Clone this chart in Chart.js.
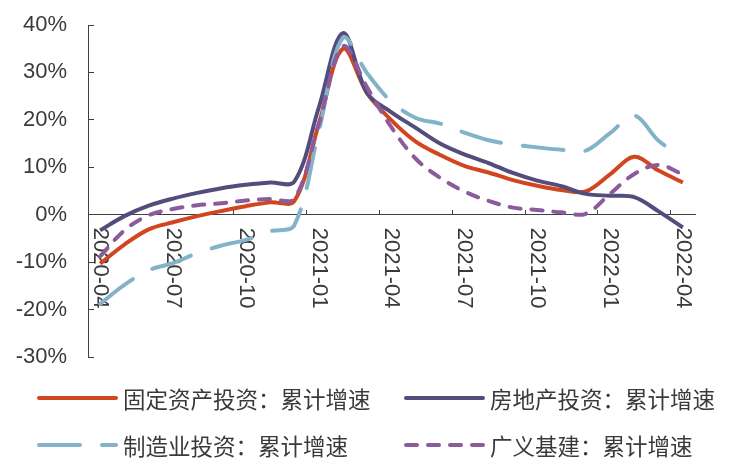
<!DOCTYPE html>
<html>
<head>
<meta charset="utf-8">
<script src="https://cdn.jsdelivr.net/npm/chart.js@4.4.1/dist/chart.umd.min.js"></script>
<style>
  html, body { margin: 0; padding: 0; background: #fff; }
  #wrap { width: 747px; height: 472px; }
</style>
</head>
<body>
<div id="wrap"><canvas id="myLineChart" width="747" height="472"></canvas></div>
<script>
const months = ['2020-04', '2020-05', '2020-06', '2020-07', '2020-08', '2020-09', '2020-10', '2020-11', '2020-12',
    '2021-01', '2021-02', '2021-03', '2021-04', '2021-05', '2021-06', '2021-07', '2021-08', '2021-09', '2021-10', '2021-11', '2021-12',
    '2022-01', '2022-02', '2022-03', '2022-04'];
const faiGrowth = [-10.3, -6.3, -3.1, -1.6, -0.3, 0.8, 1.8, 2.6, 2.9,
    19.0, 35.0, 25.6, 19.9, 15.4, 12.6, 10.3, 8.9, 7.3, 6.1, 5.2, 4.9,
    8.5, 12.2, 9.3, 6.8];
const realEstateGrowth = [-3.3, -0.3, 1.9, 3.4, 4.6, 5.6, 6.3, 6.8, 7.0,
    22.5, 38.3, 25.6, 21.6, 18.3, 15.0, 12.7, 10.9, 8.8, 7.2, 6.0, 4.4,
    4.0, 3.7, 0.7, -2.7];
const manufacturingGrowth = [-18.8, -14.8, -11.7, -10.2, -8.1, -6.5, -5.3, -3.5, -2.2,
    17.5, 37.3, 29.8, 23.8, 20.4, 19.2, 17.3, 15.7, 14.8, 14.2, 13.7, 13.5,
    17.2, 20.9, 15.6, 12.2];
const infraGrowth = [-8.8, -3.3, -0.1, 1.2, 2.0, 2.4, 3.0, 3.3, 3.4,
    19.0, 35.5, 26.8, 18.4, 11.8, 7.8, 4.9, 2.9, 1.5, 1.0, 0.5, 0.2,
    4.4, 8.6, 10.5, 8.5];
const seriesNames = ['固定资产投资：累计增速', '房地产投资：累计增速', '制造业投资：累计增速', '广义基建：累计增速'];
const yMin = -30;
const yMax = 40;
const yStep = 10;

const textColor = '#3a3a3a';
const axisColor = '#404040';
const latinFont = '"Liberation Sans", Arial, sans-serif';

// x labels are rotated clockwise (read top to bottom), so draw them ourselves under the zero line
const xLabelPlugin = {
    id: 'xLabels',
    beforeDatasetsDraw(chart) {
        const ctx = chart.ctx;
        const xs = chart.scales.x;
        const y0 = chart.scales.y.getPixelForValue(0);
        ctx.save();
        ctx.font = '22px ' + latinFont;
        ctx.fillStyle = textColor;
        ctx.textAlign = 'left';
        ctx.textBaseline = 'middle';
        months.forEach((m, i) => {
            if (i % 3 !== 0) return;
            ctx.save();
            ctx.translate(xs.getPixelForValue(i), y0 + 13);
            ctx.rotate(Math.PI / 2);
            ctx.fillText(m, 0, 0);
            ctx.restore();
        });
        ctx.restore();
    }
};

// two-column legend under the plot
const legendRows = [[0, 1], [2, 3]];
const legendPlugin = {
    id: 'bottomLegend',
    afterDraw(chart) {
        const ctx = chart.ctx;
        ctx.save();
        ctx.font = '22.5px "Noto Sans CJK SC", sans-serif';
        ctx.textBaseline = 'middle';
        ctx.textAlign = 'left';
        legendRows.forEach((row, r) => {
            const yy = 398 + r * 47;
            row.forEach((di, c) => {
                const ds = chart.data.datasets[di];
                const xx = 37 + c * 367;
                ctx.beginPath();
                ctx.strokeStyle = ds.borderColor;
                ctx.lineWidth = ds.borderWidth;
                ctx.lineCap = 'round';
                ctx.setLineDash(ds.borderDash || []);
                ctx.moveTo(xx + 2, yy);
                ctx.lineTo(xx + 79, yy);
                ctx.stroke();
                ctx.setLineDash([]);
                ctx.fillStyle = textColor;
                ctx.fillText(ds.label, xx + 86, yy + 1);
            });
        });
        ctx.restore();
    }
};

let myInvestChart;
function chart_load() {
    const canvasElement = document.getElementById('myLineChart');
    if (myInvestChart instanceof Chart) {
        myInvestChart.destroy();
    }
    const ctx = canvasElement.getContext('2d');

    const lineStyle = {
        pointRadius: 0,
        pointHoverRadius: 0,
        borderWidth: 4,
        tension: 0.35,
        fill: false,
        borderJoinStyle: 'round'
    };

    myInvestChart = new Chart(ctx, {
        type: 'line',
        data: {
            labels: months,
            datasets: [{
                ...lineStyle,
                label: seriesNames[0],
                data: faiGrowth,
                borderColor: '#D2461F',
                order: 4
            }, {
                ...lineStyle,
                label: seriesNames[1],
                data: realEstateGrowth,
                borderColor: '#534D7E',
                order: 3
            }, {
                ...lineStyle,
                label: seriesNames[2],
                data: manufacturingGrowth,
                borderColor: '#82B3C8',
                borderDash: [41, 22],
                borderCapStyle: 'round',
                order: 2
            }, {
                ...lineStyle,
                label: seriesNames[3],
                data: infraGrowth,
                borderColor: '#8C5B9C',
                borderDash: [11, 11],
                borderCapStyle: 'round',
                order: 1
            }]
        },
        options: {
            responsive: false,
            devicePixelRatio: 1,
            animation: false,
            layout: {
                padding: { left: 0, top: 25, right: 52, bottom: 115 }
            },
            scales: {
                x: {
                    type: 'category',
                    position: { y: 0 },
                    offset: true,
                    ticks: { display: false, autoSkip: false },
                    grid: {
                        display: true,
                        offset: true,
                        drawOnChartArea: false,
                        drawTicks: true,
                        tickLength: -5,
                        color: c => (c.index % 3 === 0 ? axisColor : 'rgba(0,0,0,0)')
                    },
                    border: { display: true, color: axisColor, width: 1 }
                },
                y: {
                    min: yMin,
                    max: yMax,
                    ticks: {
                        stepSize: yStep,
                        callback: v => v + '%',
                        color: textColor,
                        font: { family: latinFont, size: 22 },
                        padding: 27
                    },
                    grid: {
                        display: true,
                        drawOnChartArea: false,
                        drawTicks: true,
                        tickLength: -6,
                        color: axisColor
                    },
                    border: { display: true, color: axisColor, width: 1 },
                    afterFit(scale) {
                        scale.width = 88;
                        scale.paddingTop = 0;
                        scale.paddingBottom = 0;
                    }
                }
            },
            plugins: {
                legend: { display: false },
                tooltip: { enabled: false }
            }
        },
        plugins: [xLabelPlugin, legendPlugin]
    });
}
chart_load();
</script>
</body>
</html>
